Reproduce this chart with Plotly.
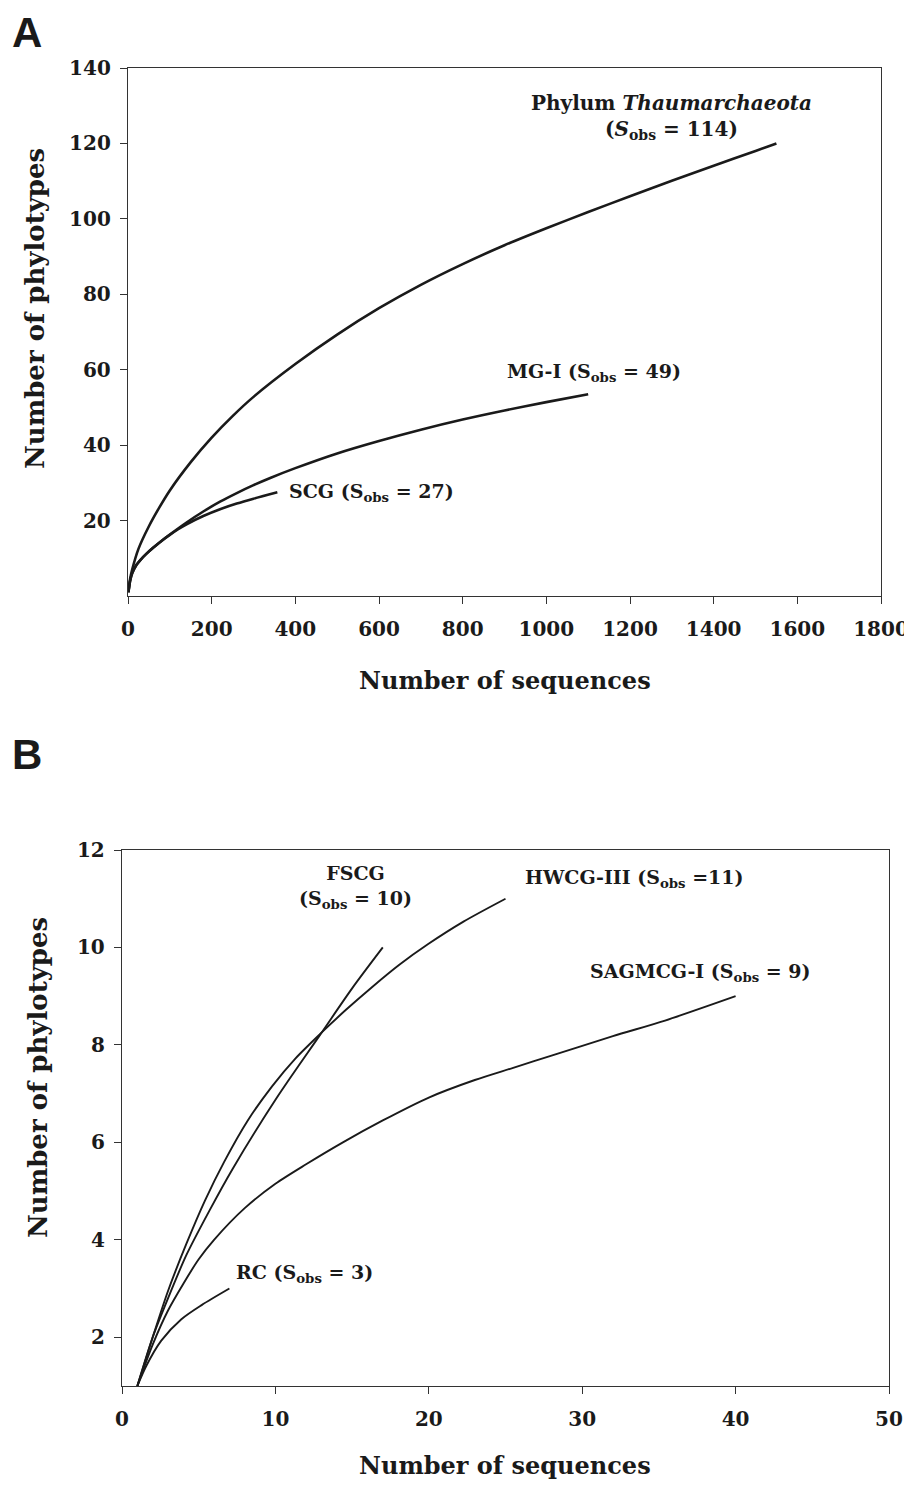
import plotly.graph_objects as go

# ---------------- Panel A data ----------------
thaum_x = [1, 5, 10, 25, 50, 75, 100, 150, 200, 250, 300, 400, 500, 600, 700, 800, 900, 1000, 1100, 1200, 1300, 1400, 1500, 1550]
thaum_y = [1, 4.5, 7, 12.5, 18.5, 23.5, 28, 35.5, 42, 47.7, 52.8, 61.5, 69.3, 76.3, 82.5, 88, 93, 97.5, 101.8, 106, 110.1, 114.1, 118, 120]

mg1_x = [1, 5, 10, 20, 30, 45, 60, 80, 100, 140, 180, 220, 260, 300, 340, 400, 500, 600, 700, 800, 900, 1000, 1100]
mg1_y = [1, 4, 6, 8.2, 9.6, 11.3, 12.8, 14.6, 16.3, 19.5, 22.4, 25, 27.3, 29.4, 31.3, 33.9, 37.8, 41.1, 44.1, 46.8, 49.2, 51.4, 53.5]

scg_x = [1, 5, 10, 20, 30, 45, 60, 80, 100, 120, 140, 180, 220, 260, 300, 357]
scg_y = [1, 4, 6, 8.2, 9.6, 11.3, 12.8, 14.6, 16.2, 17.7, 19.0, 21.2, 23.0, 24.5, 25.8, 27.5]

# ---------------- Panel B data ----------------
fscg_x = [1, 2, 3, 4.2, 5.7, 7.2, 10.1, 12.9, 15, 17]
fscg_y = [1, 2, 2.8, 3.69, 4.6, 5.45, 6.92, 8.2, 9.16, 10]

hwcg_x = [1, 2, 3, 4.2, 5.4, 6.66, 8.2, 9.78, 11.3, 12.9, 14.6, 16.35, 18.1, 19.96, 22.26, 25]
hwcg_y = [1, 2, 2.95, 3.92, 4.8, 5.6, 6.45, 7.15, 7.72, 8.22, 8.72, 9.2, 9.65, 10.07, 10.53, 11]

sag_x = [1, 2, 3, 4, 5, 6, 8, 10, 12, 14.4, 17, 20, 23, 25.5, 28, 32, 35.4, 40]
sag_y = [1, 1.85, 2.55, 3.1, 3.6, 4.0, 4.65, 5.15, 5.55, 6.0, 6.45, 6.92, 7.28, 7.53, 7.78, 8.18, 8.5, 9.0]

rc_x = [1, 1.58, 2.56, 3.87, 5.19, 7]
rc_y = [1, 1.41, 1.93, 2.37, 2.66, 3]

xticks_a = [0, 200, 400, 600, 800, 1000, 1200, 1400, 1600, 1800]
yticks_a = [20, 40, 60, 80, 100, 120, 140]
xticks_b = [0, 10, 20, 30, 40, 50]
yticks_b = [2, 4, 6, 8, 10, 12]

OFF = 8            # page body margin
W, H = 912 - OFF, 1487 - 2 * OFF
SERIF = "DejaVu Serif"
INK = "#1a1a1a"

fig = go.Figure()

def add_line(x, y, xa, ya, width):
    fig.add_trace(go.Scatter(x=x, y=y, mode="lines", xaxis=xa, yaxis=ya,
                             line=dict(color=INK, width=width, shape="spline", smoothing=0.8),
                             showlegend=False, hoverinfo="skip"))

add_line(thaum_x, thaum_y, "x", "y", 2.6)
add_line(mg1_x, mg1_y, "x", "y", 2.6)
add_line(scg_x, scg_y, "x", "y", 2.6)
add_line(fscg_x, fscg_y, "x2", "y2", 1.9)
add_line(hwcg_x, hwcg_y, "x2", "y2", 1.9)
add_line(sag_x, sag_y, "x2", "y2", 1.9)
add_line(rc_x, rc_y, "x2", "y2", 1.9)

def px2x(p):
    return (p - OFF) / W

def py2y(p):
    return 1 - (p - OFF) / H

axis_common = dict(showline=True, linecolor="#333333", linewidth=1.4, mirror=True,
                   ticks="outside", ticklen=7, tickcolor="#333333", tickwidth=1.2,
                   showgrid=False, zeroline=False, automargin=False,
                   ticklabeloverflow="allow")

xfont = dict(family=SERIF, size=20, color=INK, weight="bold")
yfont = dict(family=SERIF, size=20, color=INK, weight="bold")

fig.update_layout(
    width=W, height=H, margin=dict(l=0, r=0, t=0, b=0, autoexpand=False),
    paper_bgcolor="white", plot_bgcolor="white",
    xaxis=dict(domain=[px2x(128), px2x(881)], range=[0, 1800], anchor="y",
               tickvals=xticks_a, ticktext=[str(v) for v in xticks_a],
               tickfont=xfont, ticklabelstandoff=8, **axis_common),
    yaxis=dict(domain=[py2y(596), py2y(68)], range=[0, 140], anchor="x",
               tickvals=yticks_a, ticktext=[str(v) for v in yticks_a],
               tickfont=yfont, ticklabelstandoff=5, **axis_common),
    xaxis2=dict(domain=[px2x(122), px2x(889)], range=[0, 50], anchor="y2",
                tickvals=xticks_b, ticktext=[str(v) for v in xticks_b],
                tickfont=xfont, ticklabelstandoff=8, **axis_common),
    yaxis2=dict(domain=[py2y(1386), py2y(850)], range=[1, 12], anchor="x2",
                tickvals=yticks_b, ticktext=[str(v) for v in yticks_b],
                tickfont=yfont, ticklabelstandoff=5, **axis_common),
)

ann = []
lab_a = dict(family=SERIF, size=19, color=INK, weight="bold")
lab_t = dict(family=SERIF, size=20, color=INK, weight="bold")
lab_b = dict(family=SERIF, size=19, color=INK, weight="bold")

def A(**kw):
    kw.setdefault("showarrow", False)
    kw.setdefault("xanchor", "center")
    kw.setdefault("yanchor", "middle")
    ann.append(kw)

# curve labels panel A
A(x=1300, y=127, xref="x", yref="y", font=lab_t, align="center",
  text="Phylum <i>Thaumarchaeota</i><br>(<i>S</i><sub>obs</sub> = 114)")
A(x=1113, y=59.2, xref="x", yref="y", font=lab_a, text="MG-I (S<sub>obs</sub> = 49)")
A(x=380, y=27.4, xref="x", yref="y", font=lab_a, xanchor="left", text="SCG (S<sub>obs</sub> = 27)")
# curve labels panel B
A(x=15.2, y=11.25, xref="x2", yref="y2", font=lab_b, align="center",
  text="FSCG<br>(S<sub>obs</sub> = 10)")
A(x=33.4, y=11.42, xref="x2", yref="y2", font=lab_b, text="HWCG-III (S<sub>obs</sub> =11)")
A(x=37.7, y=9.49, xref="x2", yref="y2", font=lab_b, text="SAGMCG-I (S<sub>obs</sub> = 9)")
A(x=11.9, y=3.3, xref="x2", yref="y2", font=lab_b, text="RC (S<sub>obs</sub> = 3)")

# axis titles
xtitle_font = dict(family=SERIF, size=24, color=INK, weight="bold")
ytitle_font = dict(family=SERIF, size=26, color=INK, weight="bold")
A(x=px2x(505), y=py2y(680), xref="paper", yref="paper", font=xtitle_font, text="Number of sequences")
A(x=px2x(505), y=py2y(1465), xref="paper", yref="paper", font=xtitle_font, text="Number of sequences")
A(x=px2x(35), y=py2y(309), xref="paper", yref="paper", font=ytitle_font,
  text="Number of phylotypes", textangle=-90)
A(x=px2x(38), y=py2y(1078), xref="paper", yref="paper", font=ytitle_font,
  text="Number of phylotypes", textangle=-90)

# panel letters
letter_font = dict(family="Liberation Sans", size=42, color=INK, weight="bold")
A(x=px2x(27), y=py2y(33), xref="paper", yref="paper", font=letter_font, text="A")
A(x=px2x(27), y=py2y(755), xref="paper", yref="paper", font=letter_font, text="B")

fig.update_layout(annotations=ann)
fig.write_html("out.html")
